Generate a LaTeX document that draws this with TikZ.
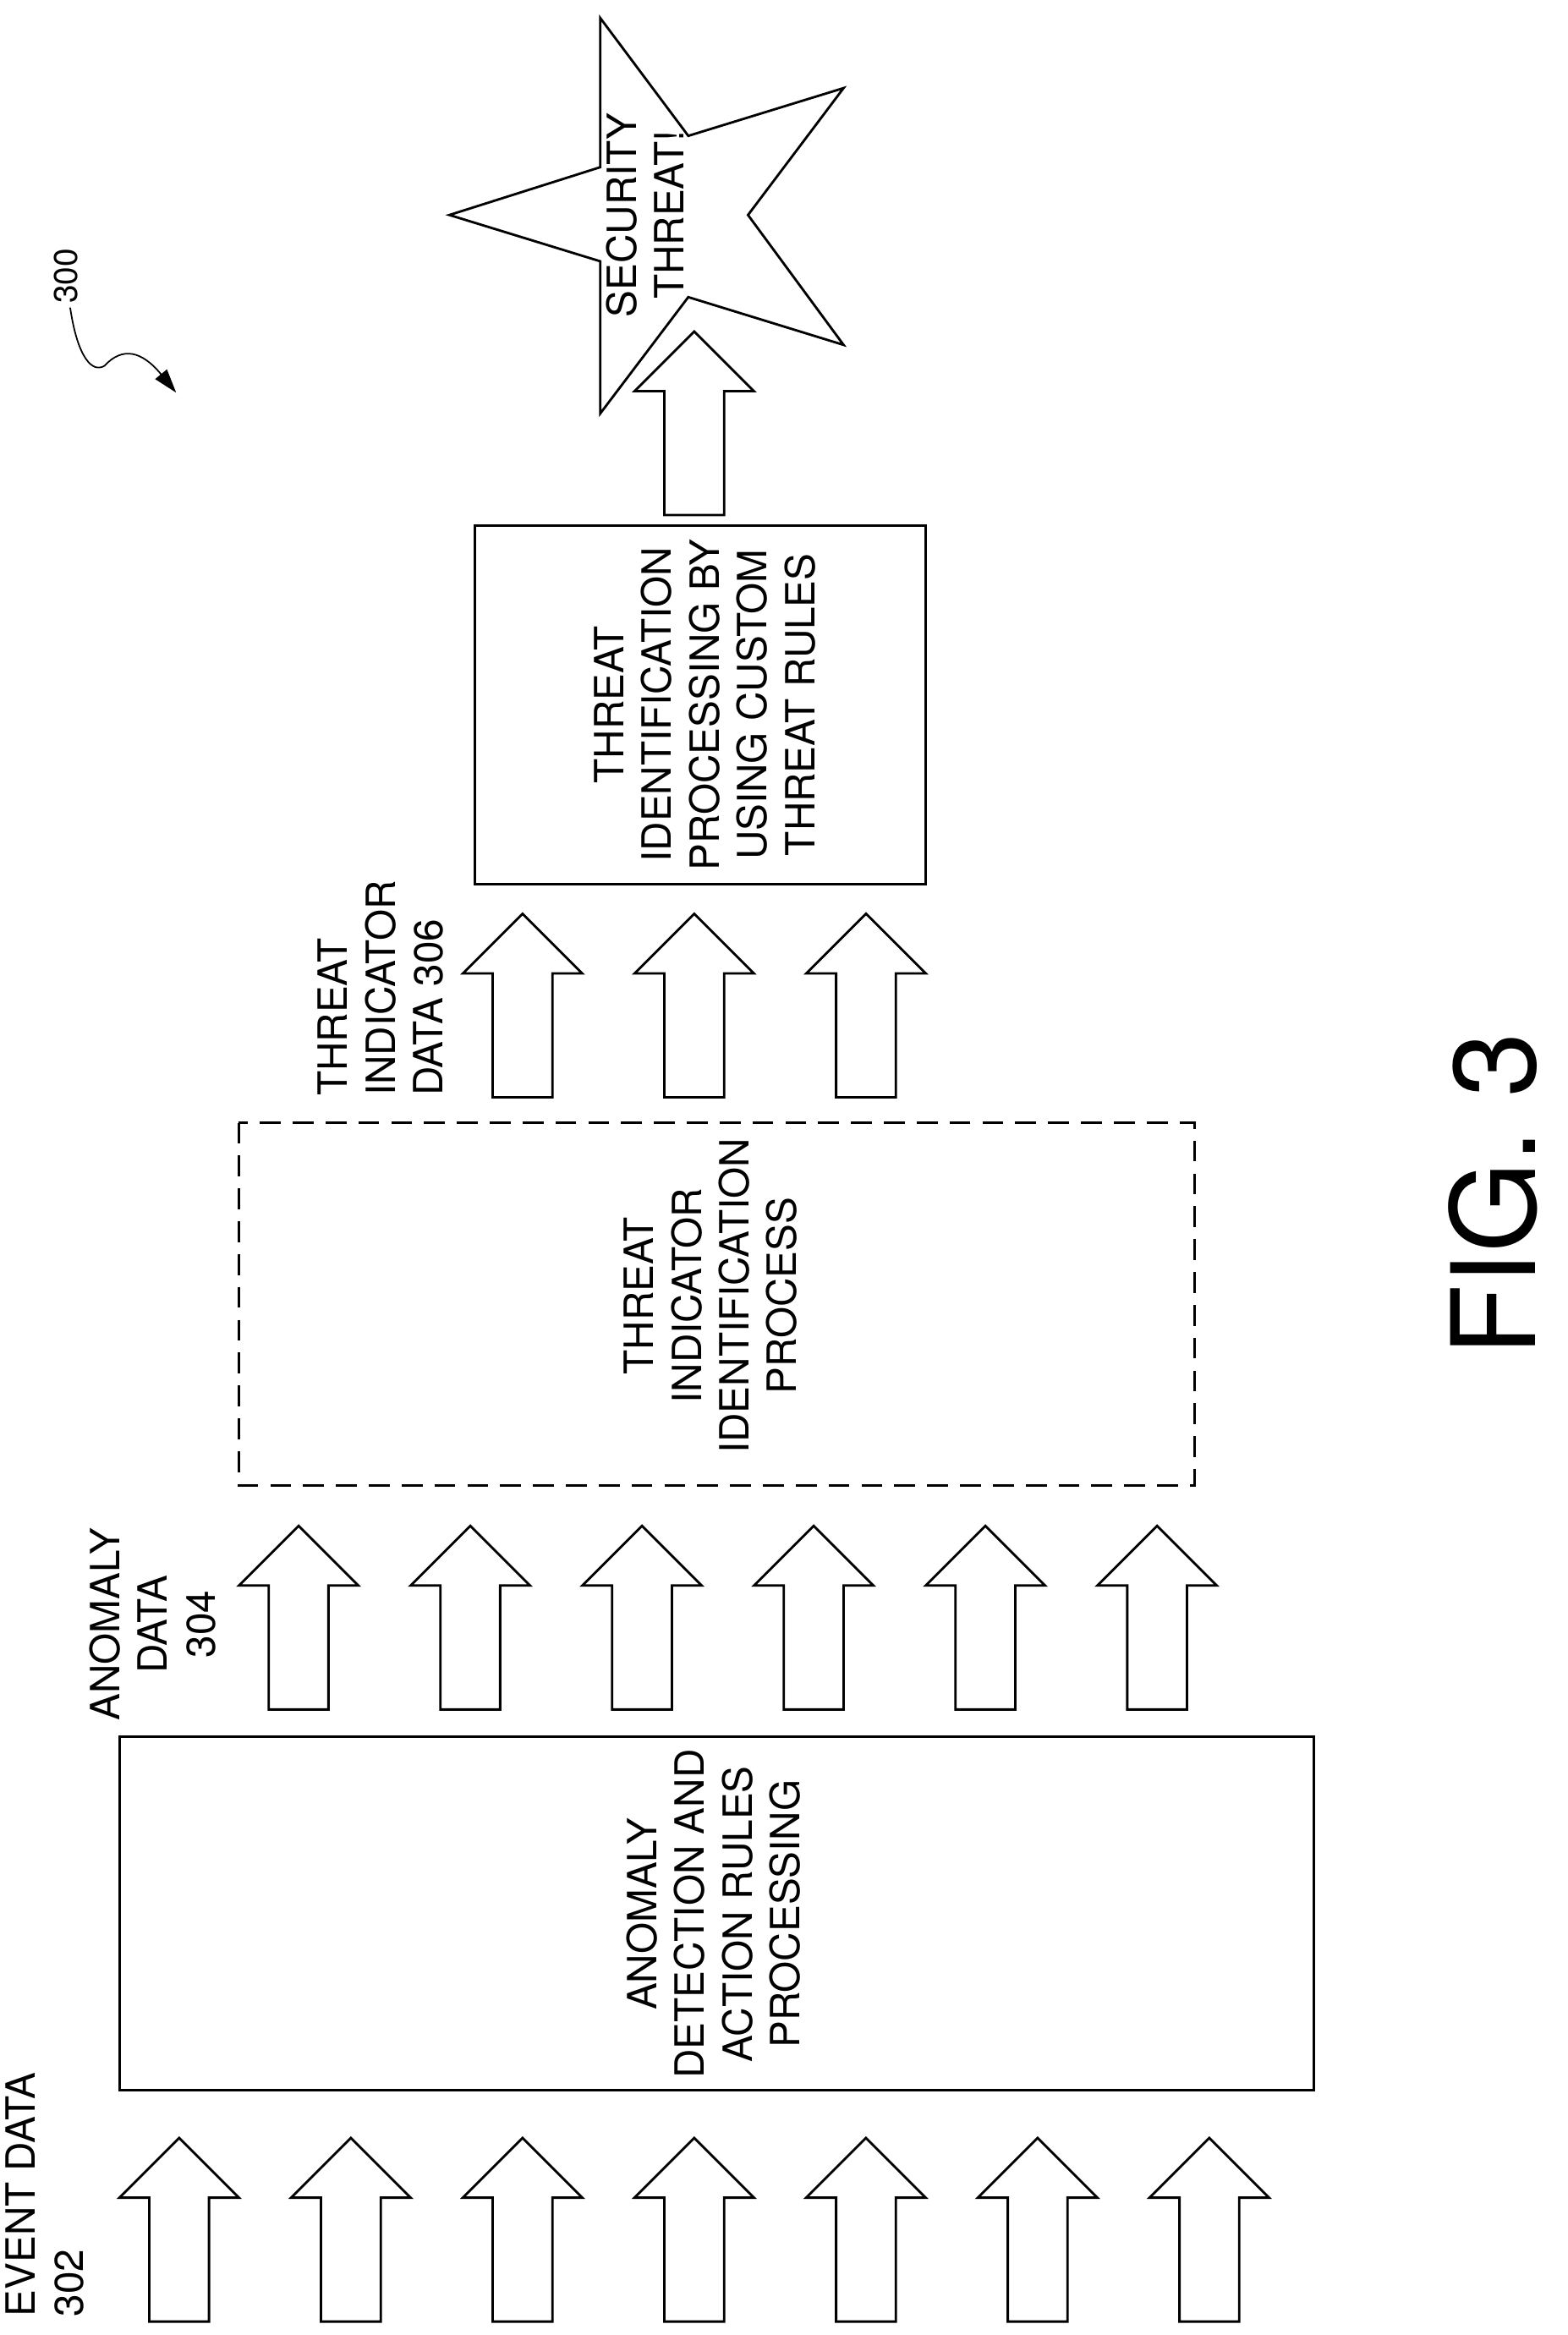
\documentclass[tikz,border=0pt]{standalone}
\usepackage{fontspec}
\setmainfont{TeX Gyre Heros}
\usetikzlibrary{arrows.meta}

\tikzset{
  lbl/.style={rotate=90, align=center, font=\fontsize{27}{32}\selectfont},
  box/.style={draw, line width=1.6pt},
  blk/.style={draw, line width=1.6pt, fill=white}
}
% block arrow pointing up: centre x, top y
\newcommand{\uparr}[2]{
  \draw[blk] (#1,#2) -- (#1+40,#2+40) -- (#1+20,#2+40) -- (#1+20,#2+123)
    -- (#1-20,#2+123) -- (#1-20,#2+40) -- (#1-40,#2+40) -- cycle;
}

\begin{document}
\begin{tikzpicture}[x=1pt, y=-1pt]
\useasboundingbox (0,0) rectangle (1050,1564);

% Event data arrows
\foreach \cx in {120,235,350,465,580,695,810} { \uparr{\cx}{1432} }
\node[lbl, align=left] (event) at (30,1470) {EVENT DATA\\302};

% Anomaly detection box
\draw[box] (80,1163) rectangle (880,1400);
\node[lbl] (anom) at (478,1282) {ANOMALY\\DETECTION AND\\ACTION RULES\\PROCESSING};

% Anomaly data arrows
\foreach \cx in {200,315,430,545,660,775} { \uparr{\cx}{1022} }
\node[lbl] (anomdata) at (102,1088) {ANOMALY\\DATA\\304};

% Threat indicator process (dashed)
\draw[box, dashed, dash pattern=on 14pt off 8pt] (160,752) rectangle (800,995);
\node[lbl] (tip) at (476,868) {THREAT\\INDICATOR\\IDENTIFICATION\\PROCESS};

% Threat indicator data arrows
\foreach \cx in {350,465,580} { \uparr{\cx}{612} }
\node[lbl, align=left] (tidata) at (255,662) {THREAT\\INDICATOR\\DATA 306};

% Threat identification box
\draw[box] (318,352) rectangle (620,592);
\node[lbl] (tid) at (472,472) {THREAT\\IDENTIFICATION\\PROCESSING BY\\USING CUSTOM\\THREAT RULES};

% Arrow to star
\uparr{465}{222}

% Star
\draw[box, fill=white] (402,12) -- (461,91) -- (565,59) -- (501,144) -- (565,231)
  -- (461,199) -- (402,277) -- (402,175) -- (301,144) -- (402,112) -- cycle;
\node[lbl] (threat) at (432,144) {SECURITY\\THREAT!};

% Reference numeral
\node[rotate=90, font=\fontsize{22}{26}\selectfont] (ref) at (44,185) {300};
\draw[line width=1pt, -{Triangle[length=16pt, width=10pt]}]
  (47,206) .. controls (52,240) and (62,250) .. (70,245)
  .. controls (82,232) and (95,235) .. (118,263);

% Figure label
\node[rotate=90, font=\fontsize{78}{80}\selectfont] (fig) at (1000,800) {FIG. 3};
\end{tikzpicture}
\end{document}
